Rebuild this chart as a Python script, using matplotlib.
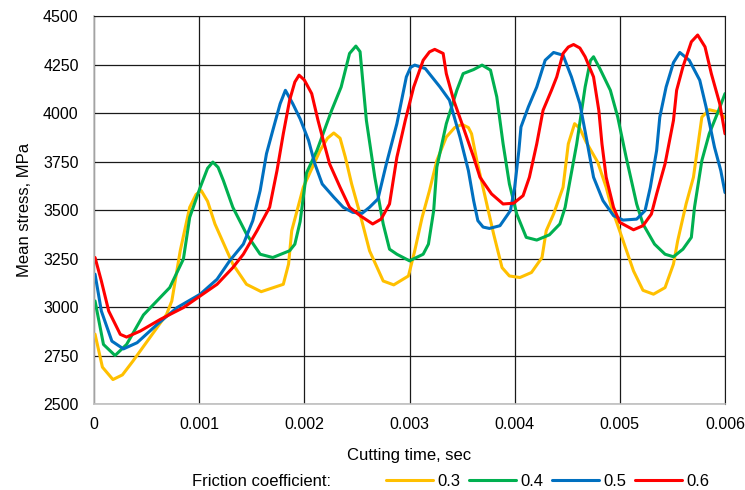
import matplotlib
matplotlib.use('Agg')
import matplotlib.pyplot as plt

plt.rcParams['font.family'] = ['Liberation Sans', 'DejaVu Sans']

# friction coefficient 0.3 (yellow)
t_03 = [0.00001, 0.00008, 0.00018, 0.00027, 0.00037, 0.00069, 0.00074, 0.00082, 0.00091,
        0.00097, 0.00102, 0.00108, 0.00115, 0.00132, 0.00145, 0.00159, 0.00180, 0.00185,
        0.00188, 0.00199, 0.00215, 0.00222, 0.00228, 0.00234, 0.00239, 0.00245, 0.00253,
        0.00262, 0.00275, 0.00285, 0.00299, 0.00305, 0.00312, 0.00319, 0.00326, 0.00335,
        0.00343, 0.00350, 0.00356, 0.00359, 0.00364, 0.00372, 0.00380, 0.00388, 0.00395,
        0.00405, 0.00416, 0.00426, 0.00430, 0.00437, 0.00446, 0.00451, 0.00457, 0.00462,
        0.00468, 0.00479, 0.00487, 0.00492, 0.00502, 0.00513, 0.00522, 0.00532, 0.00543,
        0.00551, 0.00555, 0.00563, 0.00570, 0.00578, 0.00585, 0.00594, 0.00600]
s_03 = [2860, 2690, 2626, 2650, 2721, 2962, 3031, 3290, 3514,
        3580, 3600, 3545, 3428, 3221, 3117, 3079, 3117, 3221,
        3393, 3617, 3807, 3870, 3897, 3870, 3772, 3634, 3479,
        3290, 3134, 3114, 3160, 3290, 3462, 3600, 3755, 3876,
        3925, 3941, 3925, 3893, 3755, 3566, 3376, 3203, 3160,
        3152, 3178, 3255, 3393, 3479, 3617, 3841, 3945, 3920,
        3850, 3746, 3617, 3514, 3359, 3186, 3086, 3066, 3100,
        3221, 3341, 3531, 3669, 3979, 4017, 4005, 3975]

# friction coefficient 0.4 (green)
t_04 = [0.00001, 0.00009, 0.00020, 0.00031, 0.00047, 0.00072, 0.00085, 0.00091, 0.00101,
        0.00108, 0.00113, 0.00118, 0.00123, 0.00132, 0.00145, 0.00158, 0.00170, 0.00186,
        0.00191, 0.00196, 0.00202, 0.00212, 0.00226, 0.00235, 0.00243, 0.00249, 0.00253,
        0.00259, 0.00267, 0.00275, 0.00281, 0.00288, 0.00300, 0.00313, 0.00318, 0.00323,
        0.00326, 0.00335, 0.00345, 0.00351, 0.00361, 0.00369, 0.00377, 0.00383, 0.00389,
        0.00395, 0.00402, 0.00411, 0.00421, 0.00433, 0.00443, 0.00448, 0.00452, 0.00459,
        0.00467, 0.00472, 0.00475, 0.00481, 0.00491, 0.00498, 0.00506, 0.00516, 0.00522,
        0.00533, 0.00543, 0.00551, 0.00560, 0.00568, 0.00571, 0.00578, 0.00585, 0.00594,
        0.00600]
s_04 = [3031, 2807, 2750, 2807, 2959, 3100, 3247, 3462, 3617,
        3715, 3747, 3720, 3652, 3514, 3376, 3272, 3255, 3290,
        3324, 3440, 3690, 3807, 4014, 4134, 4307, 4345, 4316,
        3962, 3669, 3428, 3298, 3272, 3238, 3272, 3324, 3497,
        3721, 3945, 4117, 4203, 4224, 4247, 4221, 4083, 3841,
        3634, 3479, 3359, 3345, 3372, 3428, 3514, 3634, 3841,
        4134, 4270, 4290, 4229, 4117, 3979, 3772, 3531, 3428,
        3324, 3272, 3259, 3298, 3359, 3514, 3755, 3893, 4014,
        4100]

# friction coefficient 0.5 (blue)
t_05 = [0.00001, 0.00007, 0.00017, 0.00028, 0.00041, 0.00060, 0.00079, 0.00101, 0.00117,
        0.00129, 0.00142, 0.00151, 0.00158, 0.00164, 0.00170, 0.00177, 0.00182, 0.00189,
        0.00196, 0.00204, 0.00210, 0.00217, 0.00228, 0.00237, 0.00246, 0.00255, 0.00262,
        0.00270, 0.00278, 0.00288, 0.00297, 0.00301, 0.00305, 0.00315, 0.00329, 0.00338,
        0.00348, 0.00356, 0.00361, 0.00365, 0.00370, 0.00376, 0.00386, 0.00396, 0.00400,
        0.00404, 0.00406, 0.00413, 0.00421, 0.00429, 0.00437, 0.00446, 0.00454, 0.00462,
        0.00468, 0.00475, 0.00484, 0.00494, 0.00503, 0.00516, 0.00524, 0.00529, 0.00535,
        0.00538, 0.00544, 0.00551, 0.00557, 0.00566, 0.00576, 0.00582, 0.00590, 0.00596,
        0.00600]
s_05 = [3169, 2979, 2824, 2784, 2816, 2910, 2997, 3066, 3143,
        3238, 3324, 3445, 3600, 3790, 3910, 4048, 4117, 4048,
        3970, 3859, 3738, 3634, 3566, 3514, 3488, 3483, 3514,
        3557, 3738, 3945, 4186, 4235, 4247, 4229, 4134, 4066,
        3876, 3703, 3548, 3445, 3412, 3405, 3419, 3497, 3617,
        3807, 3928, 4031, 4134, 4272, 4312, 4298, 4186, 4048,
        3876, 3669, 3548, 3471, 3448, 3453, 3497, 3617, 3807,
        3979, 4134, 4260, 4312, 4272, 4169, 4031, 3824, 3703,
        3590]

# friction coefficient 0.6 (red)
t_06 = [0.00001, 0.00007, 0.00014, 0.00025, 0.00031, 0.00044, 0.00063, 0.00085, 0.00101,
        0.00117, 0.00132, 0.00142, 0.00155, 0.00167, 0.00174, 0.00180, 0.00186, 0.00191,
        0.00195, 0.00200, 0.00207, 0.00213, 0.00218, 0.00224, 0.00234, 0.00243, 0.00253,
        0.00265, 0.00273, 0.00281, 0.00288, 0.00296, 0.00304, 0.00313, 0.00319, 0.00324,
        0.00332, 0.00335, 0.00342, 0.00351, 0.00361, 0.00367, 0.00378, 0.00389, 0.00399,
        0.00408, 0.00414, 0.00421, 0.00427, 0.00435, 0.00440, 0.00446, 0.00451, 0.00456,
        0.00462, 0.00467, 0.00475, 0.00480, 0.00483, 0.00487, 0.00494, 0.00500, 0.00513,
        0.00522, 0.00530, 0.00535, 0.00543, 0.00551, 0.00554, 0.00560, 0.00568, 0.00574,
        0.00581, 0.00587, 0.00595, 0.00600]
s_06 = [3255, 3134, 2979, 2859, 2845, 2876, 2936, 2997, 3057,
        3117, 3203, 3272, 3393, 3514, 3703, 3893, 4066, 4160,
        4195, 4170, 4100, 3962, 3859, 3738, 3617, 3514, 3471,
        3428, 3453, 3531, 3772, 3962, 4134, 4272, 4315, 4328,
        4307, 4203, 4066, 3928, 3772, 3669, 3583, 3531, 3535,
        3574, 3669, 3841, 4014, 4117, 4186, 4307, 4340, 4353,
        4335, 4290, 4186, 4014, 3841, 3669, 3514, 3436, 3398,
        3419, 3479, 3583, 3738, 3962, 4117, 4238, 4367, 4402,
        4341, 4203, 4048, 3893]

series = [(t_03, s_03, '0.3', '#FFC000'),
          (t_04, s_04, '0.4', '#00B050'),
          (t_05, s_05, '0.5', '#0070C0'),
          (t_06, s_06, '0.6', '#FF0000')]

x_ticks = [0, 0.001, 0.002, 0.003, 0.004, 0.005, 0.006]
x_ticklabels = ['0', '0.001', '0.002', '0.003', '0.004', '0.005', '0.006']
y_ticks = [2500, 2750, 3000, 3250, 3500, 3750, 4000, 4250, 4500]

fig = plt.figure(figsize=(7.45, 4.9), dpi=100)
ax = fig.add_axes([94/745, 1 - 404/490, (725 - 94)/745, (404 - 16)/490])

lines = []
for t, s, lab, col in series:
    ln, = ax.plot(t, s, color=col, linewidth=2.2, label=lab,
                  solid_joinstyle='round', solid_capstyle='round')
    lines.append(ln)

ax.set_xlim(0, 0.006)
ax.set_ylim(2500, 4500)
ax.set_xticks(x_ticks)
ax.set_xticklabels(x_ticklabels)
ax.set_yticks(y_ticks)
ax.grid(True, color='#1a1a1a', linewidth=0.9)
ax.set_axisbelow(True)
ax.tick_params(length=0, labelsize=11.5, colors='black')
ax.tick_params(axis='y', pad=11)
ax.tick_params(axis='x', pad=9)

ax.spines['left'].set_color('#bfbfbf')
ax.spines['bottom'].set_color('#bfbfbf')
ax.spines['left'].set_linewidth(1.2)
ax.spines['bottom'].set_linewidth(1.2)
ax.spines['top'].set_color('#1a1a1a')
ax.spines['right'].set_color('#1a1a1a')

ax.set_xlabel('Cutting time, sec', fontsize=12, labelpad=12)
ax.set_ylabel('Mean stress, MPa', fontsize=12, labelpad=8)

fig.text(192/745, 1 - 481/490, 'Friction coefficient:', fontsize=12, va='center', ha='left')
fig.legend(handles=lines, loc='center', bbox_to_anchor=(548/745, 1 - 481/490), ncol=4,
           frameon=False, fontsize=12, handlelength=2.8, handletextpad=0.3,
           columnspacing=0.5)

fig.savefig('out.png', dpi=100)
